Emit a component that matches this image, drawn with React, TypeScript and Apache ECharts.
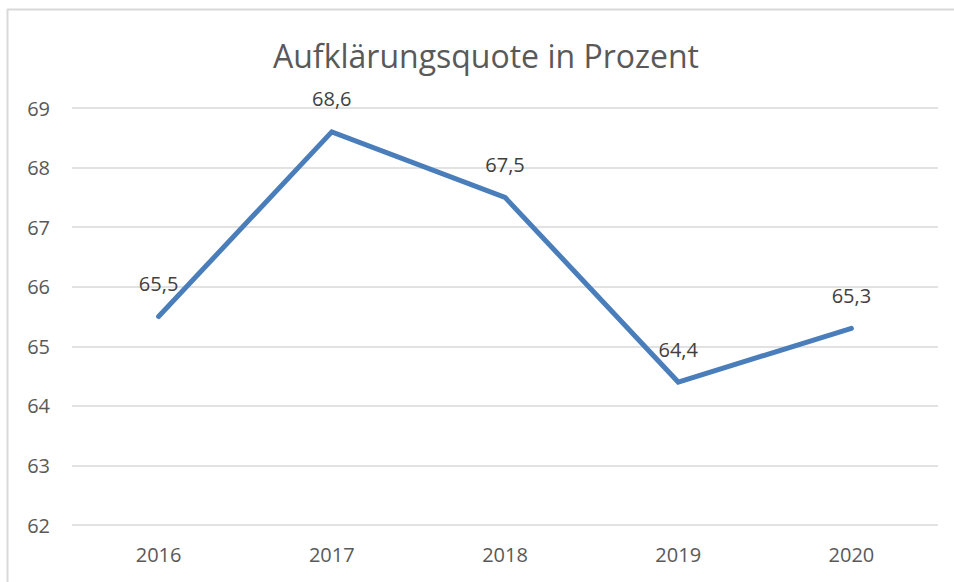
import React, { useEffect, useRef } from "react";
import * as echarts from "echarts";

const categories = ["2016", "2017", "2018", "2019", "2020"];
const quote = [65.5, 68.6, 67.5, 64.4, 65.3];
const yMin = 62;
const yMax = 69;

export default function App() {
  const ref = useRef<HTMLDivElement>(null);
  useEffect(() => {
    const chart = echarts.init(ref.current!, null, { renderer: "svg" });
    chart.setOption({
      animation: false,
      backgroundColor: "#ffffff",
      title: {
        text: "Aufklärungsquote in Prozent",
        left: 268,
        top: 34,
        textStyle: {
          fontFamily: "Open Sans",
          fontSize: 32,
          fontWeight: "normal",
          color: "#595959",
        },
      },
      graphic: [
        { type: "line", shape: { x1: 7, y1: 9.5, x2: 960, y2: 9.5 }, style: { stroke: "#d9d9d9", lineWidth: 2 } },
        { type: "line", shape: { x1: 7.5, y1: 9, x2: 7.5, y2: 600 }, style: { stroke: "#d9d9d9", lineWidth: 2 } },
      ],
      grid: { left: 72, right: 16, top: 108, bottom: 57 },
      xAxis: {
        type: "category",
        data: categories,
        boundaryGap: true,
        axisLine: { show: false },
        axisTick: { show: false },
        axisLabel: { fontFamily: "Open Sans", fontSize: 20, color: "#595959", margin: 19 },
      },
      yAxis: {
        type: "value",
        min: yMin,
        max: yMax,
        interval: 1,
        axisLine: { show: false },
        axisTick: { show: false },
        splitLine: { lineStyle: { color: "#d9d9d9", width: 1.5 } },
        axisLabel: { fontFamily: "Open Sans", fontSize: 20, color: "#595959", margin: 22 },
      },
      series: [
        {
          type: "line",
          data: quote,
          showSymbol: true,
          symbol: "circle",
          symbolSize: 2,
          itemStyle: { color: "#4a7ebb" },
          lineStyle: { color: "#4a7ebb", width: 5, cap: "round", join: "miter" },
          label: {
            show: true,
            position: "top",
            distance: 22,
            fontFamily: "Open Sans",
            fontSize: 20,
            color: "#404040",
            formatter: (p: any) => String(p.value).replace(".", ","),
          },
        },
      ],
    });
    return () => chart.dispose();
  }, []);
  return (
    <div
      ref={ref}
      style={{ position: "fixed", left: 0, top: 0, width: 954, height: 582 }}
    />
  );
}
